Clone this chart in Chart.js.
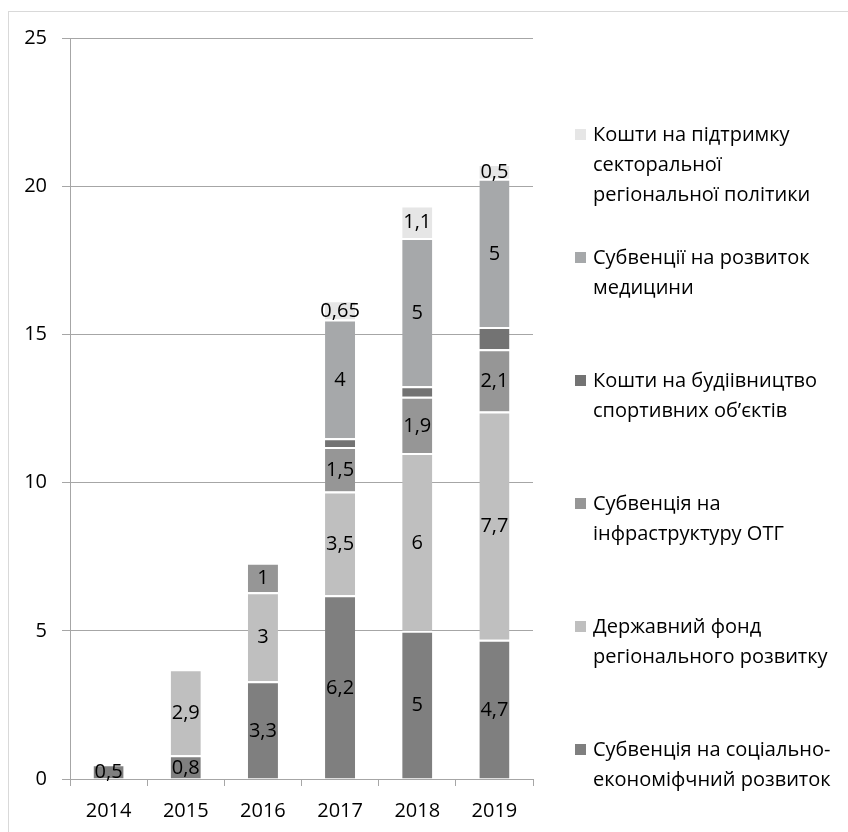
<!DOCTYPE html>
<html>
<head>
<meta charset="utf-8">
<script src="https://cdn.jsdelivr.net/npm/chart.js@4"></script>
<style>
  body { margin: 0; background: #fff; }
  #wrap { width: 848px; height: 832px; position: relative; }
</style>
</head>
<body>
<div id="wrap"><canvas id="chart"></canvas></div>
<script>
const years = ['2014', '2015', '2016', '2017', '2018', '2019'];

// bottom to top in each stack
const socEcon = [0.5, 0.8, 3.3, 6.2, 5, 4.7];
const regionalFund = [null, 2.9, 3, 3.5, 6, 7.7];
const infraOtg = [null, null, 1, 1.5, 1.9, 2.1];
const sportObjects = [null, null, null, 0.3, 0.35, 0.75];
const medicine = [null, null, null, 4, 5, 5];
const sectoral = [null, null, null, 0.65, 1.1, 0.5];

const yTicks = [0, 5, 10, 15, 20, 25];

const seriesNames = [
  ['Субвенція на соціально-', 'економіфчний розвиток'],
  ['Державний фонд', 'регіонального розвитку'],
  ['Субвенція на', 'інфраструктуру ОТГ'],
  ['Кошти на будіівництво', 'спортивних об’єктів'],
  ['Субвенції на розвиток', 'медицини'],
  ['Кошти на підтримку', 'секторальної', 'регіональної політики']
];
const seriesValues = [socEcon, regionalFund, infraOtg, sportObjects, medicine, sectoral];
const seriesColors = ['#7f7f7f', '#bfbfbf', '#969696', '#737373', '#a6a8aa', '#e6e6e6'];
const showLabels = [true, true, true, false, true, true];

const FONT = '"Open Sans", "Noto Sans", sans-serif';
Chart.defaults.font.family = FONT;
Chart.defaults.color = '#000';

// value labels in the middle of each segment
const segmentLabels = {
  id: 'segmentLabels',
  afterDatasetsDraw(chart) {
    const ctx = chart.ctx;
    ctx.save();
    ctx.font = '20px ' + FONT;
    ctx.fillStyle = '#000';
    ctx.textAlign = 'center';
    ctx.textBaseline = 'middle';
    chart.data.datasets.forEach((ds, i) => {
      if (!showLabels[i]) return;
      chart.getDatasetMeta(i).data.forEach((bar, j) => {
        const v = ds.data[j];
        if (v == null || v === 0) return;
        ctx.fillText(String(v).replace('.', ','), bar.x, (bar.y + bar.base) / 2 + 1);
      });
    });
    ctx.restore();
  }
};

// legend on the right, top item = top of the stack
const sideLegend = {
  id: 'sideLegend',
  afterDraw(chart) {
    const ctx = chart.ctx;
    ctx.save();
    ctx.font = '20px ' + FONT;
    ctx.textAlign = 'left';
    ctx.textBaseline = 'middle';
    const order = [5, 4, 3, 2, 1, 0];
    order.forEach((s, k) => {
      const y0 = 135 + k * 123;
      ctx.fillStyle = seriesColors[s];
      ctx.fillRect(575, y0 - 6, 11, 11);
      ctx.fillStyle = '#000';
      seriesNames[s].forEach((line, n) => {
        ctx.fillText(line, 593, y0 + n * 30);
      });
    });
    ctx.restore();
  }
};

const frame = {
  id: 'frame',
  beforeDraw(chart) {
    const ctx = chart.ctx;
    ctx.save();
    ctx.fillStyle = '#fff';
    ctx.fillRect(0, 0, chart.width, chart.height);
    ctx.strokeStyle = '#d9d9d9';
    ctx.lineWidth = 1;
    ctx.strokeRect(8.5, 11.5, 1000, 1000);
    ctx.restore();
  }
};

new Chart(document.getElementById('chart'), {
  type: 'bar',
  data: {
    labels: years,
    datasets: seriesValues.map((vals, i) => ({
      label: seriesNames[i].join(' '),
      data: vals,
      backgroundColor: seriesColors[i],
      borderColor: '#ffffff',
      borderWidth: { top: 2, left: 0, right: 0, bottom: 0 },
      barPercentage: 0.39,
      categoryPercentage: 1
    }))
  },
  options: {
    responsive: true,
    maintainAspectRatio: false,
    animation: false,
    layout: { padding: { top: 38, right: 315, bottom: 0, left: 0 } },
    plugins: {
      legend: { display: false },
      tooltip: { enabled: false }
    },
    scales: {
      x: {
        stacked: true,
        afterFit(scale) { scale.height = 53; },
        grid: {
          offset: true,
          drawOnChartArea: false,
          drawTicks: true,
          tickLength: 7,
          color: '#a6a6a6'
        },
        border: { color: '#a6a6a6', width: 1 },
        ticks: { font: { size: 20 }, color: '#000', padding: 13 }
      },
      y: {
        stacked: true,
        min: 0,
        max: 25,
        afterFit(scale) { scale.width = 70; },
        afterBuildTicks(scale) { scale.ticks = yTicks.map(v => ({ value: v })); },
        grid: { color: '#a6a6a6', tickLength: 8 },
        border: { color: '#a6a6a6', width: 1 },
        ticks: { font: { size: 20 }, color: '#000', padding: 15 }
      }
    }
  },
  plugins: [frame, segmentLabels, sideLegend]
});
</script>
</body>
</html>
